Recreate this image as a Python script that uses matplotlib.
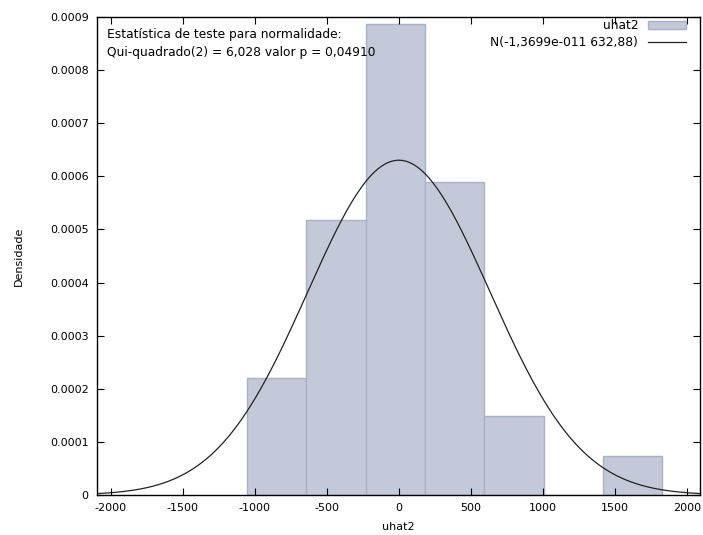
import numpy as np
import matplotlib.pyplot as plt

# histogram of residuals (density per bin)
bin_edges = [-1055, -643, -231, 181, 593, 1005, 1417, 1829]
densities = [0.000221, 0.000517, 0.000886, 0.000590, 0.000148, 0.0, 0.0000740]

# fitted normal from the legend
mu = -1.3699e-11
sigma = 632.88

xticks = [-2000, -1500, -1000, -500, 0, 500, 1000, 1500, 2000]
yticks = [0, 0.0001, 0.0002, 0.0003, 0.0004, 0.0005, 0.0006, 0.0007, 0.0008, 0.0009]
ytick_labels = ['0', '0.0001', '0.0002', '0.0003', '0.0004', '0.0005',
                '0.0006', '0.0007', '0.0008', '0.0009']

plt.rcParams['font.family'] = 'DejaVu Sans'

fig = plt.figure(figsize=(7.03, 5.35), dpi=100)
ax = fig.add_axes([97 / 703, 1 - 495 / 535, 603 / 703, 478 / 535])

lefts = np.array(bin_edges[:-1])
widths = np.diff(bin_edges)
bars = ax.bar(lefts, densities, width=widths, align='edge', color='#c3c9d8',
              edgecolor='#a8b1c6', linewidth=1.0, label='uhat2', zorder=1)

xs = np.linspace(-2095, 2090, 400)
pdf = np.exp(-0.5 * ((xs - mu) / sigma) ** 2) / (sigma * np.sqrt(2 * np.pi))
line, = ax.plot(xs, pdf, color='#222222', linewidth=0.9,
                label='N(-1,3699e-011 632,88)', zorder=2)

ax.set_xlim(-2095, 2090)
ax.set_ylim(0, 0.0009)
ax.set_xticks(xticks)
ax.set_xticklabels([str(t) for t in xticks])
ax.set_yticks(yticks)
ax.set_yticklabels(ytick_labels)
ax.tick_params(direction='in', top=True, right=True, length=5, width=0.8,
               labelsize=8, colors='black', pad=6)
for s in ax.spines.values():
    s.set_linewidth(1.0)

ax.set_xlabel('uhat2', fontsize=8, labelpad=6)
ax.set_ylabel('Densidade', fontsize=8, labelpad=19)

ax.text(0.017, 0.978, 'Estatística de teste para normalidade:',
        transform=ax.transAxes, fontsize=8.8, va='top', ha='left')
ax.text(0.017, 0.94, 'Qui-quadrado(2) = 6,028 valor p = 0,04910',
        transform=ax.transAxes, fontsize=8.8, va='top', ha='left')

ax.legend([bars, line], ['uhat2', 'N(-1,3699e-011 632,88)'],
          loc='upper right', bbox_to_anchor=(1 - 14 / 603, 1 - 2 / 478),
          frameon=False, markerfirst=False, fontsize=8.8,
          handlelength=3.1, handleheight=0.6, handletextpad=0.8,
          labelspacing=0.3, borderaxespad=0, borderpad=0)

fig.savefig('out.png', dpi=100)
